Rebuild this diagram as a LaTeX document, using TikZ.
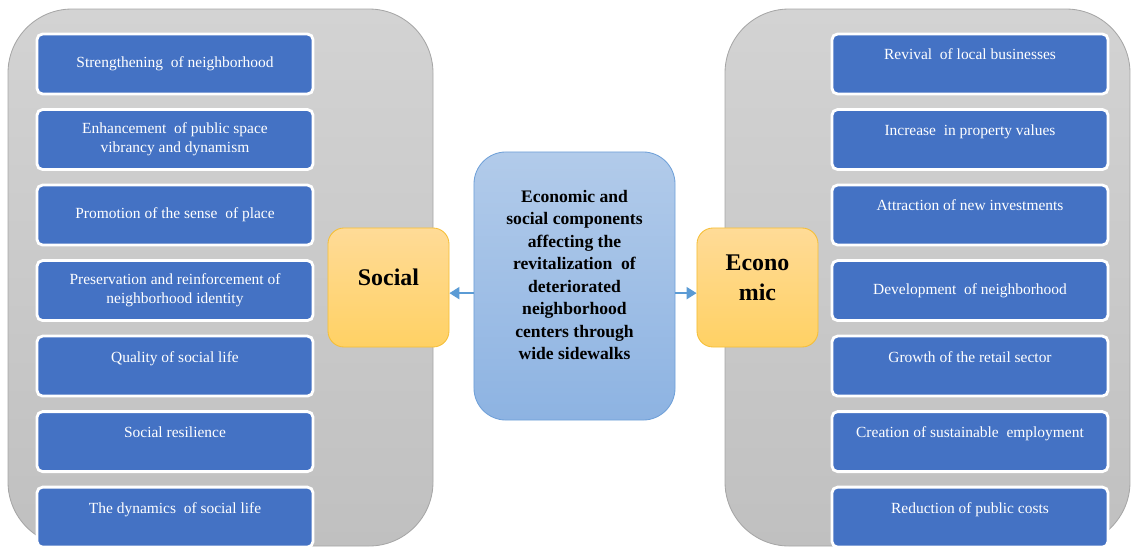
\documentclass[tikz,border=0pt]{standalone}
\usepackage{fontspec}
\setmainfont{Liberation Serif}
\usetikzlibrary{positioning,arrows.meta}

\definecolor{itemblue}{HTML}{4472C4}
\definecolor{linkblue}{HTML}{5B9BD5}
\definecolor{panelTop}{HTML}{D3D3D3}
\definecolor{panelBot}{HTML}{C0C0C0}
\definecolor{panelLine}{HTML}{A6A6A6}
\definecolor{coreTop}{HTML}{B2CBEA}
\definecolor{coreBot}{HTML}{8DB3E2}
\definecolor{coreLine}{HTML}{6FA0D8}
\definecolor{dimTop}{HTML}{FFDB97}
\definecolor{dimBot}{HTML}{FFD164}
\definecolor{dimLine}{HTML}{F5BE35}

\tikzset{
  panel/.style={draw=panelLine, line width=0.6pt, top color=panelTop, bottom color=panelBot, rounded corners=1.6cm},
  item/.style={draw=white, line width=2pt, fill=itemblue, rounded corners=4pt, text=white,
    minimum width=6.9cm, minimum height=1.5cm, align=center,
    font=\fontsize{11}{13.5}\selectfont},
  core/.style={draw=coreLine, line width=0.6pt, top color=coreTop, bottom color=coreBot,
    rounded corners=0.8cm, minimum width=5.025cm, minimum height=6.7cm, align=center,
    font=\fontsize{12.5}{16}\selectfont\bfseries},
  dim/.style={draw=dimLine, line width=0.6pt, top color=dimTop, bottom color=dimBot,
    rounded corners=0.4cm, minimum width=3.025cm, minimum height=2.975cm, align=center,
    font=\fontsize{17}{21}\selectfont\bfseries},
  link/.style={draw=linkblue, line width=1.2pt, -{Triangle[length=7pt, width=8.5pt]}}
}

\begin{document}
\begin{tikzpicture}[x=0.025cm, y=-0.025cm, node distance=1.8875cm]
    \useasboundingbox (0,0) rectangle (1131,547);

    % grey backgrounds
    \path[panel] (8,9) rectangle (433,546);
    \path[panel] (725,9) rectangle (1130,546);

    % social column
    \node[item] (soc1) at (175,64) {Strengthening\ \ of neighborhood};
    \node[item] [below of=soc1] (soc2) {Enhancement\ \ of public space\\ vibrancy and dynamism};
    \node[item] [below of=soc2] (soc3) {Promotion of the sense\ \ of place};
    \node[item] [below of=soc3] (soc4) {Preservation and reinforcement of\\ neighborhood identity};
    \node[item] [below of=soc4] (soc5) {Quality of social life\\ \mbox{}};
    \node[item] [below of=soc5] (soc6) {Social resilience\\ \mbox{}};
    \node[item] [below of=soc6] (soc7) {The dynamics\ \ of social life\\ \mbox{}};

    % economic column
    \node[item] (eco1) at (970,64) {Revival\ \ of local businesses\\ \mbox{}};
    \node[item] [below of=eco1] (eco2) {Increase\ \ in property values\\ \mbox{}};
    \node[item] [below of=eco2] (eco3) {Attraction of new investments\\ \mbox{}};
    \node[item] [below of=eco3] (eco4) {Development\ \ of neighborhood};
    \node[item] [below of=eco4] (eco5) {Growth of the retail sector\\ \mbox{}};
    \node[item] [below of=eco5] (eco6) {Creation of sustainable\ \ employment\\ \mbox{}};
    \node[item] [below of=eco6] (eco7) {Reduction of public costs\\ \mbox{}};

    % middle
    \node[core] (core) at (574.5,286) {Economic and\\ social components\\ affecting the\\ revitalization\ \ of\\ deteriorated\\ neighborhood\\ centers through\\ wide sidewalks\\ \mbox{}};
    \node[dim] (soc) at (388.5,287.5) {Social\\[-7pt] \mbox{}};
    \node[dim] (eco) at (757.5,287.5) {Econo\\ mic\\[-7pt] \mbox{}};

    \draw[link] ([yshift=-4pt]soc.east -| core.west) -- ([yshift=-4pt]soc.east);
    \draw[link] ([yshift=-4pt]eco.west -| core.east) -- ([yshift=-4pt]eco.west);
\end{tikzpicture}
\end{document}
